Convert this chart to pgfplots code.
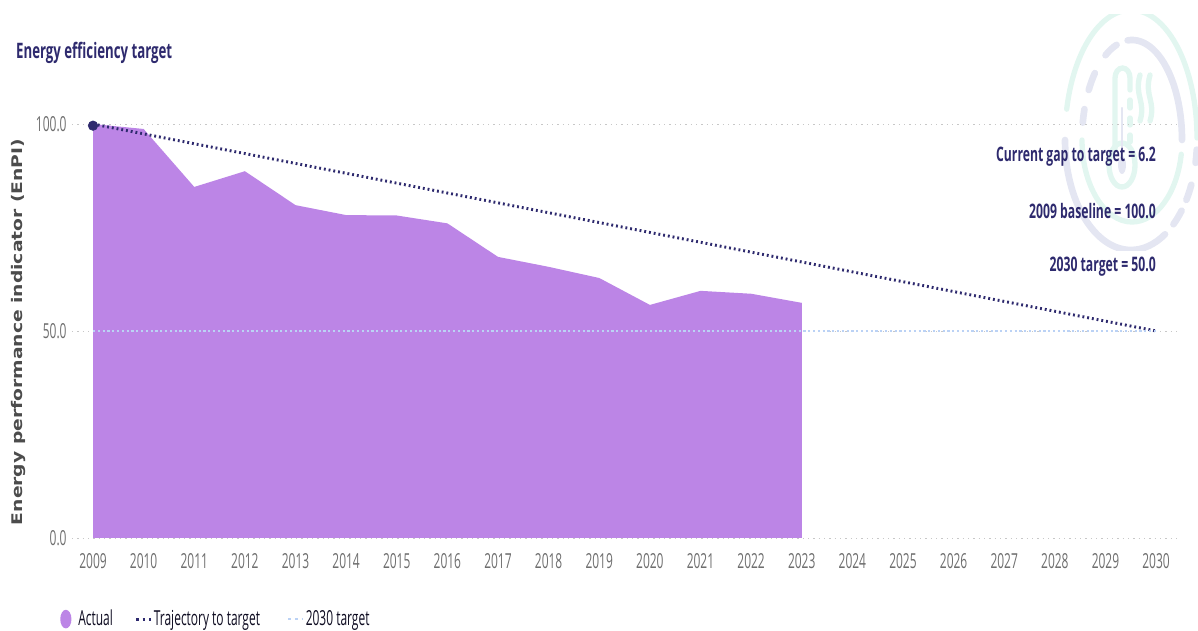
\documentclass[border=0pt]{standalone}
\usepackage{pgfplots}
\pgfplotsset{compat=1.18}
\usetikzlibrary{calc}
\usepackage{fontspec}
\setmainfont{Open Sans}
\newfontfamily\wide{DejaVu Sans}
\definecolor{navy}{HTML}{2E2A6E}
\definecolor{purp}{HTML}{BC85E6}
\definecolor{tick}{HTML}{6E6E6E}
\definecolor{wmg}{HTML}{E2F6F0}
\definecolor{wml}{HTML}{E4E6F2}
\definecolor{targ}{HTML}{BBD2F5}
\pgfplotstableread{
year actual
2009 100.0
2010 98.8
2011 84.8
2012 88.6
2013 80.4
2014 78.0
2015 77.9
2016 76.0
2017 67.9
2018 65.5
2019 62.8
2020 56.3
2021 59.7
2022 59.0
2023 56.8
}\actualdata
\begin{document}
\begin{tikzpicture}
\useasboundingbox (0,0) rectangle (898.5pt,473.25pt);
% watermark
\begin{scope}[x=0.75pt,y=0.75pt,line cap=round]
\clip (1040,380) rectangle (1198,616);
\draw[wmg,line width=4pt] ($(1131,493)+(167:66 and 128)$) arc (167:0:66 and 128);
\draw[wml,line width=5pt] ($(1131,491)+(180:66 and 110)$) arc (180:301:66 and 110);
\foreach \a/\b in {-50/-40,-33/-24,-12/-5}{\draw[wml,line width=5pt] ($(1131,491)+(\a:66 and 110)$) arc (\a:\b:66 and 110);}
\draw[wml,line width=5pt] ($(1132,491)+(95:50 and 100)$) arc (95:0:50 and 100);
\foreach \a/\b in {108/122,138/150,162/170}{\draw[wml,line width=5pt] ($(1132,491)+(\a:50 and 100)$) arc (\a:\b:50 and 100);}
\draw[wmg,line width=4pt] ($(1132,491)+(180:50 and 82)$) arc (180:350:50 and 82);
\draw[wmg,line width=4pt] (1115,481) -- (1115,553) arc (180:0:7.5 and 10) -- (1130,541);
\foreach \a/\b in {531/523,513/506,496/489}{\draw[wmg,line width=4pt] (1130,\a) -- (1130,\b);}
\draw[wmg,line width=4pt] (1122,466) ellipse (13 and 22);
\draw[wmg,line width=4pt] (1140,556) .. controls (1134,535) and (1146,530) .. (1140,510);
\draw[wmg,line width=4pt] (1150,556) .. controls (1144,535) and (1156,530) .. (1150,510);
\draw[wml,line width=1.6pt] (1122,523) -- (1122,470);
\fill[wml] (1122,466) ellipse (4 and 9);
\end{scope}
\begin{axis}[
  at={(54pt,69.75pt)},anchor=south west,scale only axis,
  width=831pt,height=316.7pt,
  xmin=2008.585,xmax=2030.47,ymin=0,ymax=102,
  axis line style={draw=none},
  major tick style={draw=none},
  xtick={2009,...,2030},
  xticklabel style={/pgf/number format/1000 sep={},font=\fontsize{15.5}{16}\selectfont,text=tick,xscale=0.58,yshift=-8pt},
  ytick={0,50,100},
  yticklabels={0.0,50.0,100.0},
  yticklabel style={font=\fontsize{15.5}{16}\selectfont,text=tick,xscale=0.58,xshift=-3.5pt},
  /pgf/number format/assume math mode=true,
  ymajorgrids,
  grid style={draw=black!22,line width=.7pt,dash pattern=on 1pt off 3pt},
  clip=false,
  legend columns=3,
  legend style={at={(axis cs:2008.585,0)},anchor=north west,xshift=-12pt,yshift=-50pt,draw=none,fill=none,
    font=\fontsize{15.5}{16}\selectfont,text=black!70!navy,
    nodes={xscale=0.58},
    /tikz/column 1/.style={column sep=4pt},
    /tikz/column 2/.style={column sep=15pt},
    /tikz/column 3/.style={column sep=0pt},
    /tikz/column 4/.style={column sep=19pt},
    /tikz/column 5/.style={column sep=0pt}},
  legend cell align=left,
]
\addplot[fill=purp,draw=none,
  legend image code/.code={\fill[purp] (4.5pt,0) ellipse (4.2pt and 7pt);}] table[x=year,y=actual] {\actualdata} \closedcycle;
\addlegendentry{Actual}
\addplot[navy,line width=2.2pt,dash pattern=on 1.4pt off 2.2pt,
  legend image code/.code={\draw[navy,line width=2.4pt,dash pattern=on 2pt off 3pt] (0,0) -- (11pt,0);}] coordinates {(2009,100) (2030,50)};
\addlegendentry{Trajectory to target}
\addplot[targ,line width=2pt,dash pattern=on 1.6pt off 2pt,
  legend image code/.code={\draw[targ,line width=2pt,dash pattern=on 2pt off 3pt] (0,0) -- (11pt,0);}] coordinates {(2009,50) (2030,50)};
\addlegendentry{2030 target}
\addplot[only marks,mark=*,mark size=3.6pt,navy,forget plot] coordinates {(2009,99.6)};
\end{axis}
\begin{scope}[x=0.75pt,y=0.75pt]
\node[anchor=west,inner sep=0pt,text=navy,font=\bfseries\fontsize{16}{18}\selectfont,xscale=0.62] at (16,578) {Energy efficiency target};
\node[anchor=east,inner sep=0pt,text=navy,font=\bfseries\fontsize{15}{16}\selectfont,xscale=0.61] at (1156,474) {Current gap to target = 6.2};
\node[anchor=east,inner sep=0pt,text=navy,font=\bfseries\fontsize{15}{16}\selectfont,xscale=0.61] at (1156,420) {2009 baseline = 100.0};
\node[anchor=east,inner sep=0pt,text=navy,font=\bfseries\fontsize{15}{16}\selectfont,xscale=0.61] at (1156,364) {2030 target = 50.0};
\node[rotate=90,text=black!70,font=\wide\bfseries\fontsize{11}{13}\selectfont,xscale=1.276] at (19,299) {Energy performance indicator (EnPI)};
\end{scope}
\end{tikzpicture}
\end{document}
